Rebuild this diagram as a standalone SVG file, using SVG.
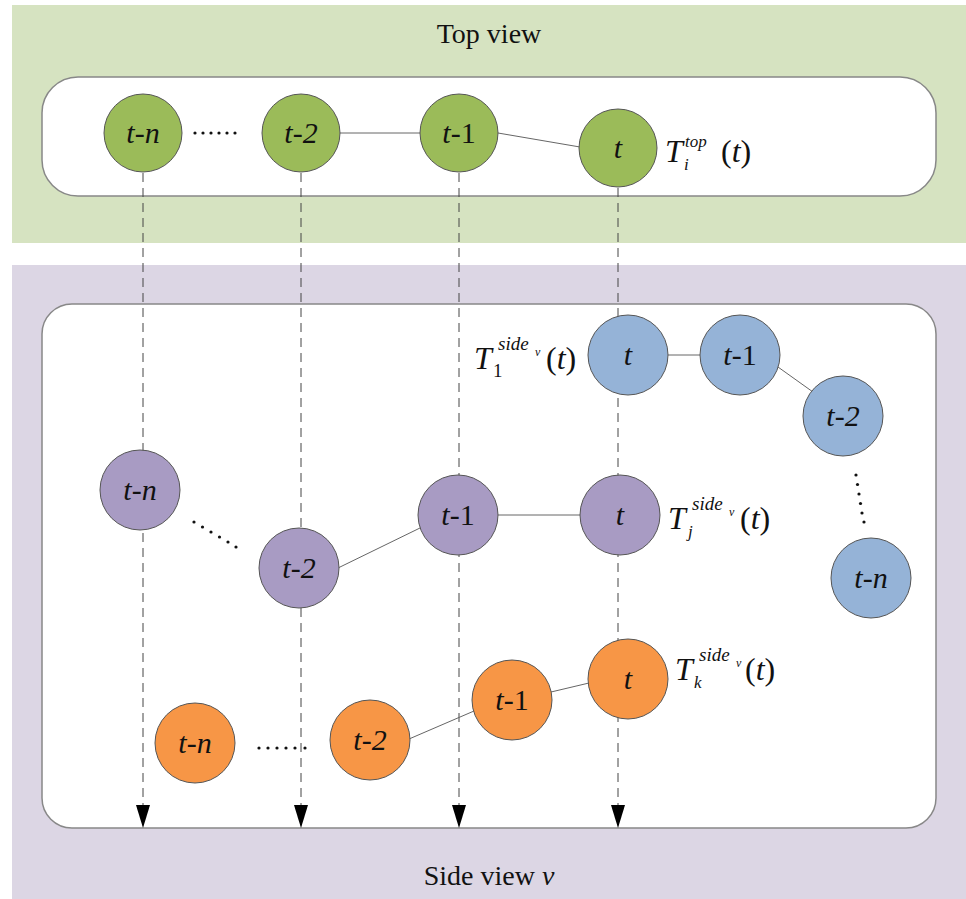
<svg xmlns="http://www.w3.org/2000/svg" width="966" height="899" viewBox="0 0 966 899">
<style>
.t{font-family:"Liberation Serif","Times New Roman",serif;fill:#111}
.lbl{font-family:"Liberation Serif","Times New Roman",serif;font-style:italic;font-size:30px;fill:#111;text-anchor:middle}
.nd{stroke:#555;stroke-width:1}
.g{fill:#9bbb59}.b{fill:#95b3d7}.p{fill:#a89bc3}.o{fill:#f79646}
.ln{stroke:#666;stroke-width:1;fill:none}
.dash{stroke:#444;stroke-width:1;stroke-dasharray:9,6;fill:none}
.dot{fill:#111}
.box{fill:#fff;stroke:#888;stroke-width:1.5}
</style>
<rect x="12" y="5" width="954" height="238" fill="#d6e3c1"/>
<rect x="12" y="265" width="954" height="634" fill="#dcd6e4"/>
<text class="t" x="489" y="43" font-size="28" text-anchor="middle">Top view</text>
<text class="t" x="489" y="885" font-size="28" text-anchor="middle">Side view <tspan font-style="italic">v</tspan></text>
<rect class="box" x="42" y="77" width="894" height="119" rx="36"/>
<rect class="box" x="42" y="304" width="894" height="524" rx="30"/>
<g id="connectors">
<line class="dash" x1="143" y1="173" x2="143" y2="805"/>
<line class="dash" x1="301" y1="173" x2="301" y2="805"/>
<line class="dash" x1="459" y1="173" x2="459" y2="805"/>
<line class="dash" x1="618" y1="188" x2="618" y2="805"/>
<path d="M136,805 L150,805 L143,828 Z" fill="#000"/>
<path d="M294,805 L308,805 L301,828 Z" fill="#000"/>
<path d="M452,805 L466,805 L459,828 Z" fill="#000"/>
<path d="M611,805 L625,805 L618,828 Z" fill="#000"/>
<line class="ln" x1="340" y1="133" x2="420" y2="133"/>
<line class="ln" x1="498" y1="133" x2="580" y2="147"/>
<line class="ln" x1="668" y1="355" x2="700" y2="355"/>
<line class="ln" x1="778" y1="367" x2="813" y2="392"/>
<line class="ln" x1="338" y1="568" x2="422" y2="527"/>
<line class="ln" x1="498" y1="515" x2="580" y2="515"/>
<line class="ln" x1="409" y1="739" x2="474" y2="711"/>
<line class="ln" x1="551" y1="692" x2="589" y2="683"/>
<g class="dot">
<circle cx="195" cy="133" r="1.6"/><circle cx="203" cy="133" r="1.6"/><circle cx="211" cy="133" r="1.6"/><circle cx="219" cy="133" r="1.6"/><circle cx="227" cy="133" r="1.6"/><circle cx="235" cy="133" r="1.6"/>
<circle cx="856" cy="475" r="1.6"/><circle cx="857.5" cy="484.5" r="1.6"/><circle cx="859" cy="494" r="1.6"/><circle cx="860.5" cy="503.5" r="1.6"/><circle cx="862" cy="513" r="1.6"/><circle cx="864" cy="522" r="1.6"/>
<circle cx="194" cy="522" r="1.6"/><circle cx="202.5" cy="527" r="1.6"/><circle cx="211" cy="532" r="1.6"/><circle cx="219.5" cy="537" r="1.6"/><circle cx="228" cy="542" r="1.6"/><circle cx="236" cy="547" r="1.6"/>
<circle cx="259" cy="748" r="1.6"/><circle cx="268" cy="748" r="1.6"/><circle cx="277" cy="748" r="1.6"/><circle cx="286" cy="748" r="1.6"/><circle cx="295" cy="748" r="1.6"/><circle cx="305" cy="748" r="1.6"/>
</g>
</g>
<g id="top-tn"><circle class="nd g" cx="143" cy="133" r="39"/><text class="lbl" x="143" y="143">t-n</text></g>
<g id="top-t2"><circle class="nd g" cx="301" cy="133" r="39"/><text class="lbl" x="301" y="143">t-2</text></g>
<g id="top-t1"><circle class="nd g" cx="459" cy="133" r="39"/><text class="lbl" x="459" y="143">t<tspan font-style="normal">-1</tspan></text></g>
<g id="top-t"><circle class="nd g" cx="618" cy="148" r="39"/><text class="lbl" x="618" y="158">t</text></g>
<g id="blue-t"><circle class="nd b" cx="628" cy="355" r="40"/><text class="lbl" x="628" y="365">t</text></g>
<g id="blue-t1"><circle class="nd b" cx="740" cy="355" r="40"/><text class="lbl" x="740" y="365">t<tspan font-style="normal">-1</tspan></text></g>
<g id="blue-t2"><circle class="nd b" cx="843" cy="416" r="40"/><text class="lbl" x="843" y="426">t-2</text></g>
<g id="blue-tn"><circle class="nd b" cx="871" cy="578" r="40"/><text class="lbl" x="871" y="588">t-n</text></g>
<g id="purple-tn"><circle class="nd p" cx="140" cy="490" r="40"/><text class="lbl" x="140" y="500">t-n</text></g>
<g id="purple-t2"><circle class="nd p" cx="299" cy="568" r="40"/><text class="lbl" x="299" y="578">t-2</text></g>
<g id="purple-t1"><circle class="nd p" cx="458" cy="515" r="40"/><text class="lbl" x="458" y="525">t<tspan font-style="normal">-1</tspan></text></g>
<g id="purple-t"><circle class="nd p" cx="620" cy="515" r="40"/><text class="lbl" x="620" y="525">t</text></g>
<g id="orange-tn"><circle class="nd o" cx="195" cy="743" r="40"/><text class="lbl" x="195" y="753">t-n</text></g>
<g id="orange-t2"><circle class="nd o" cx="370" cy="740" r="40"/><text class="lbl" x="370" y="750">t-2</text></g>
<g id="orange-t1"><circle class="nd o" cx="512" cy="700" r="40"/><text class="lbl" x="512" y="710">t<tspan font-style="normal">-1</tspan></text></g>
<g id="orange-t"><circle class="nd o" cx="628" cy="679" r="40"/><text class="lbl" x="628" y="689">t</text></g>
<g id="label-top" class="t" font-style="italic">
<text x="665" y="162" font-size="32">T</text>
<text x="685" y="147" font-size="17">top</text>
<text x="684" y="170" font-size="17">i</text>
<text x="721" y="162" font-size="32"><tspan font-style="normal">(</tspan>t<tspan font-style="normal">)</tspan></text>
</g>
<g id="label-side1" class="t" font-style="italic">
<text x="474" y="369" font-size="32">T</text>
<text x="493" y="377" font-size="19" font-style="normal">1</text>
<text x="498" y="350" font-size="19">side</text>
<text x="535" y="356" font-size="12">v</text>
<text x="546" y="369" font-size="32"><tspan font-style="normal">(</tspan>t<tspan font-style="normal">)</tspan></text>
</g>
<g id="label-sidej" class="t" font-style="italic">
<text x="668" y="529" font-size="32">T</text>
<text x="688" y="537" font-size="17">j</text>
<text x="692" y="510" font-size="19">side</text>
<text x="729" y="516" font-size="12">v</text>
<text x="740" y="529" font-size="32"><tspan font-style="normal">(</tspan>t<tspan font-style="normal">)</tspan></text>
</g>
<g id="label-sidek" class="t" font-style="italic">
<text x="675" y="680" font-size="32">T</text>
<text x="694" y="688" font-size="17">k</text>
<text x="699" y="661" font-size="19">side</text>
<text x="736" y="667" font-size="12">v</text>
<text x="745" y="680" font-size="32"><tspan font-style="normal">(</tspan>t<tspan font-style="normal">)</tspan></text>
</g>
</svg>
